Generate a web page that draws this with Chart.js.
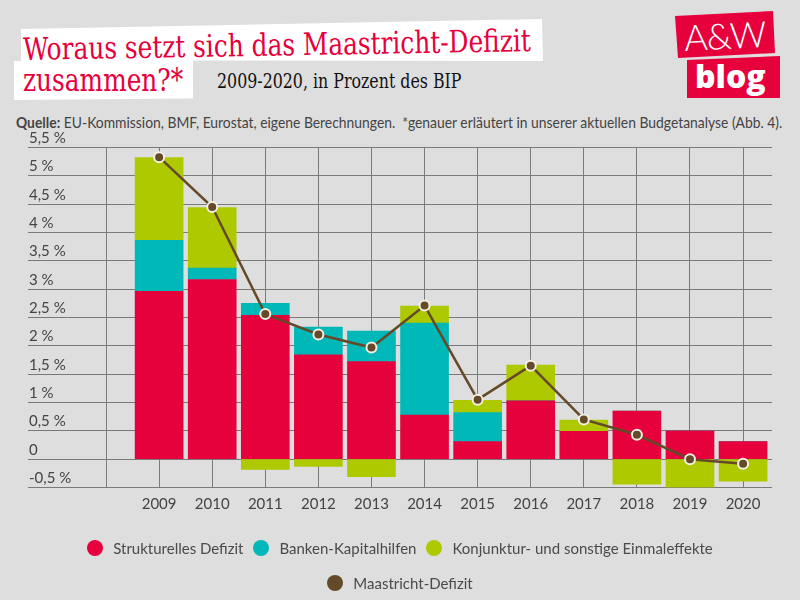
<!DOCTYPE html>
<html lang="de"><head><meta charset="utf-8">
<script src="https://cdn.jsdelivr.net/npm/chart.js@4/dist/chart.umd.min.js"></script>
<style>
html,body{margin:0;padding:0;background:#dedede;width:800px;height:600px;overflow:hidden}
#wrap{position:relative;width:800px;height:600px;overflow:hidden}
canvas{position:absolute;left:0;top:0}
.abs{position:absolute;white-space:nowrap}
.serif{font-family:"DejaVu Serif Condensed","DejaVu Serif",serif}
#box1{left:0;top:0;width:800px;height:110px;background:#fff;clip-path:polygon(21px 29px,542px 19px,543px 61px,193px 60.5px,193px 98.5px,14px 100px,14px 61px,21px 61px)}
#t1{left:23px;top:31px;font-size:31px;color:#e6003c;transform:rotate(-1deg) scaleX(0.89);transform-origin:left center}
#t2{left:23px;top:62px;font-size:31px;color:#e6003c;transform:scaleX(0.89);transform-origin:left center}
#sub{left:217px;top:69px;font-size:20px;color:#111;transform:scaleX(0.88);transform-origin:left center}
#src{left:16px;top:113px;font-family:"Lato",sans-serif;font-size:15px;color:#444;transform:scaleX(0.925);transform-origin:left center}
#logo1{left:0;top:0;width:800px;height:110px;background:#e6003c;clip-path:polygon(675px 16px,773px 11px,775px 53px,678px 58px)}
#logo2{left:0;top:0;width:800px;height:110px;background:#e6003c;clip-path:polygon(687px 60px,780px 56px,780px 98px,687px 98px)}
#aw{left:684px;top:13px;font-family:"Lato",sans-serif;font-weight:300;font-size:36px;color:#fff;transform:rotate(-3deg);letter-spacing:-1px}
#blog{left:695px;top:54px;font-family:"Open Sans",sans-serif;font-weight:800;font-size:32px;color:#fff}
#legend{position:absolute;left:0;top:530px;width:800px;display:flex;flex-wrap:wrap;justify-content:center;font-family:"Lato",sans-serif;font-size:15px;color:#4a4a4a}
.li{display:flex;align-items:center;height:35px;margin:0 5px}
.dot{width:16px;height:16px;border-radius:50%;margin-right:10px}
.br{width:100%;height:0}
</style></head><body>
<div id="wrap">
<div class="abs" id="box1"></div>
<div class="abs serif" id="t1">Woraus setzt sich das Maastricht-Defizit</div>
<div class="abs serif" id="t2">zusammen?*</div>
<div class="abs serif" id="sub">2009-2020, in Prozent des BIP</div>
<div class="abs" id="src"><b>Quelle:</b> EU-Kommission, BMF, Eurostat, eigene Berechnungen.&nbsp; *genauer erläutert in unserer aktuellen Budgetanalyse (Abb. 4).</div>
<div class="abs" id="logo1"></div><div class="abs" id="logo2"></div>
<div class="abs" id="aw">A&amp;W</div><div class="abs" id="blog">blog</div>
<canvas id="c" width="800" height="600"></canvas>
<div id="legend"></div>
</div>
<script>
const years = [2009,2010,2011,2012,2013,2014,2015,2016,2017,2018,2019,2020];
const strukturell = [2.96,3.17,2.54,1.84,1.72,0.78,0.31,1.03,0.49,0.85,0.50,0.31];
const banken = [0.90,0.20,0.21,0.49,0.54,1.62,0.51,0,0,0,0,0];
const konjunktur = [1.46,1.07,-0.18,-0.13,-0.31,0.30,0.22,0.63,0.20,-0.44,-0.50,-0.39];
const maastricht = [5.33,4.45,2.56,2.20,1.97,2.71,1.05,1.65,0.70,0.43,0.00,-0.08];
const RED='#e6003c',TEAL='#00b8b8',GREEN='#afc900',BROWN='#644a28';
const GRID='#7a7a7a', TICK='#444444', FONT='Lato, sans-serif';
const gridYears=[2008].concat(years);

const htmlLegend={id:'htmlLegend',afterUpdate(chart){
  const el=document.getElementById('legend');el.innerHTML='';
  chart.data.datasets.forEach((d,i)=>{
    if(i===3){const b=document.createElement('div');b.className='br';el.appendChild(b);}
    const li=document.createElement('div');li.className='li';
    const dot=document.createElement('span');dot.className='dot';
    dot.style.background=d.type==='line'?d.borderColor:d.backgroundColor;
    const t=document.createElement('span');t.textContent=d.label;
    li.append(dot,t);el.appendChild(li);
  });
}};

new Chart(document.getElementById('c'),{
  type:'bar',
  data:{labels:years,datasets:[
    {label:'Strukturelles Defizit',data:strukturell,backgroundColor:RED,order:2,stack:'s'},
    {label:'Banken-Kapitalhilfen',data:banken,backgroundColor:TEAL,order:2,stack:'s'},
    {label:'Konjunktur- und sonstige Einmaleffekte',data:konjunktur,backgroundColor:GREEN,order:2,stack:'s'},
    {type:'line',label:'Maastricht-Defizit',data:maastricht,borderColor:BROWN,borderWidth:2.5,backgroundColor:BROWN,
     pointRadius:5,pointHoverRadius:5,pointBackgroundColor:BROWN,pointBorderColor:'#f3efe2',pointBorderWidth:2,tension:0,order:1}
  ]},
  options:{
    responsive:false,animation:false,
    layout:{padding:{left:28,right:28,top:147.5,bottom:90.5}},
    datasets:{bar:{barThickness:48}},
    plugins:{legend:{display:false},tooltip:{enabled:false}},
    scales:{
      x:{type:'linear',stacked:true,offset:false,min:2006.53,max:2020.545,
        afterBuildTicks(s){s.ticks=gridYears.map(v=>({value:v}));},
        afterFit(s){s.height=22;},
        grid:{offset:false,color:GRID,lineWidth:1,drawTicks:false},border:{display:false},
        ticks:{padding:8,color:TICK,font:{family:FONT,size:15},maxRotation:0,autoSkip:false,
          callback:v=>v===2008?'':String(v)}},
      y:{stacked:true,min:-0.5,max:5.5,
        afterFit(s){s.width=0;},
        grid:{color:GRID,lineWidth:1,drawTicks:false},border:{display:false},
        ticks:{stepSize:0.5,mirror:true,padding:1,labelOffset:-9.5,color:TICK,font:{family:FONT,size:15},
          callback:v=>v===0?'0':String(v).replace('.',',')+' %'}}
    }
  },
  plugins:[htmlLegend]
});
</script>
</body></html>
